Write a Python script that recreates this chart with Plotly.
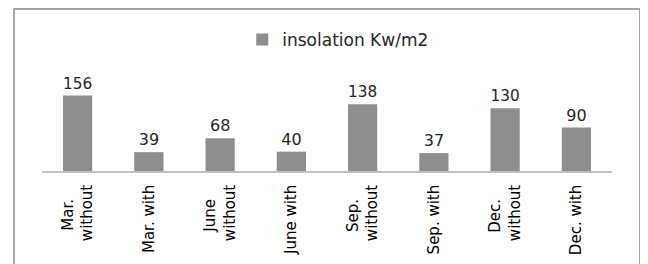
import plotly.graph_objects as go

categories = ["Mar. without", "Mar. with", "June without", "June with",
              "Sep. without", "Sep. with", "Dec. without", "Dec. with"]
PAD = "&nbsp;&nbsp;&nbsp;"
tick_labels = ["Mar." + PAD + "<br>without", "Mar. with", "June" + PAD + "<br>without", "June with",
               "Sep." + PAD + "<br>without", "Sep. with", "Dec." + PAD + "<br>without", "Dec. with"]
values = [156, 39, 68, 40, 138, 37, 130, 90]
series_name = "insolation Kw/m2"

# page body adds an 8px offset; the figure is sized to fit the 648x264 window
W, H = 640, 256
ML, MR, MT, MB = 34, 36, 76, 93
plot_h = H - MT - MB
plot_w = W - ML - MR

fig = go.Figure(go.Bar(
    x=categories, y=values, name=series_name,
    marker=dict(color="#8e8e8e", line=dict(width=0)),
    text=[str(v) for v in values], textposition="outside",
    textfont=dict(family="DejaVu Sans", size=16, color="#262626"),
    cliponaxis=False, showlegend=True,
))

# outer chart border (left, top, right)
bx0 = (6 - ML) / plot_w
bx1 = (632 - ML) / plot_w
by1 = (H - MB - 1) / plot_h
by0 = (H - MB - 300) / plot_h
fig.add_shape(type="rect", xref="paper", yref="paper", x0=bx0, x1=bx1, y0=by0, y1=by1,
              line=dict(color="#8a8a8a", width=1.5), layer="below")

fig.update_layout(
    width=W, height=H,
    margin=dict(l=ML, r=MR, t=MT, b=MB, autoexpand=False),
    paper_bgcolor="white", plot_bgcolor="white",
    bargap=0.59,
    showlegend=True,
    legend=dict(orientation="h", xref="container", yref="container",
                x=0.516, xanchor="center", y=1 - 32 / H, yanchor="middle",
                font=dict(family="DejaVu Sans", size=17, color="#262626"),
                itemwidth=30),
    xaxis=dict(showline=True, linecolor="#c0c0c0", linewidth=1.5, showgrid=False,
               tickangle=-90, ticks="", ticklabelstandoff=6,
               tickmode="array", tickvals=categories, ticktext=tick_labels,
               tickfont=dict(family="DejaVu Sans", size=15, color="#000000")),
    yaxis=dict(range=[0, 180], visible=False, showgrid=False, zeroline=False),
)

fig.write_html("out.html")
